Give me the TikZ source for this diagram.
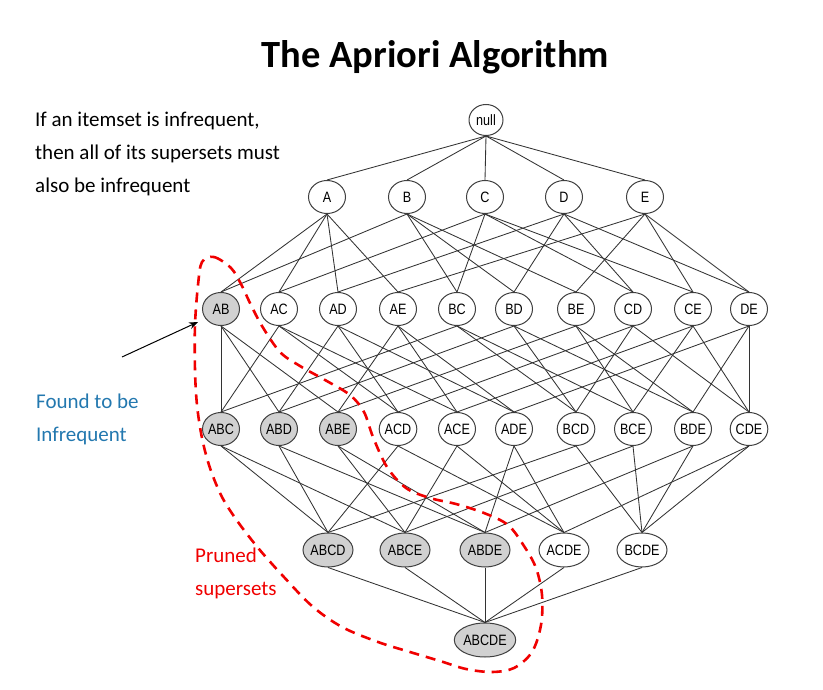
\documentclass[tikz,border=0pt]{standalone}
\usepackage{fontspec}
\setmainfont{Carlito}
\newfontfamily\nodefont[FakeStretch=0.84]{Liberation Sans}
\usetikzlibrary{arrows.meta,shapes.geometric}
\definecolor{infblue}{RGB}{35,120,175}
\definecolor{prunered}{RGB}{240,0,0}
\tikzset{
  setnode/.style={ellipse, draw=black!75, line width=1pt, fill=white, inner sep=0pt,
     minimum width=37pt, minimum height=33pt, font=\nodefont\fontsize{15}{17}\selectfont},
  infnode/.style={setnode, fill=black!18},
  bignode/.style={minimum width=50pt, minimum height=34pt},
  edge/.style={draw=black!80, line width=0.85pt},
  sidetext/.style={anchor=base west, align=left, font=\fontsize{21}{33}\selectfont, inner sep=0pt},
}
\begin{document}
\begin{tikzpicture}[x=1pt, y=-1pt]
\useasboundingbox (0,0) rectangle (823,690);
% title
\node[anchor=base, inner sep=0pt, font=\bfseries\fontsize{38.5}{40}\selectfont] (title) at (435.5,68) {The Apriori Algorithm};
% side texts (anchor = baseline of last line)
\node[sidetext] (rule) at (35,193) {If an itemset is infrequent,\\then all of its supersets must\\also be infrequent};
\node[sidetext, text=infblue] (found) at (36,441) {Found to be\\Infrequent};
\node[sidetext, text=prunered] (pruned) at (195,595) {Pruned\\supersets};
% lattice nodes
\node[setnode, minimum width=34pt, minimum height=31pt] (null) at (486,120) {null};
\foreach \n/\x in {A/327,B/407,C/485,D/564,E/645}
  \node[setnode] (\n) at (\x,197) {\n};
\node[infnode] (AB) at (221,309) {AB};
\foreach \n/\x in {AC/279,AD/338,AE/398,BC/457,BD/514,BE/576,CD/633,CE/693,DE/749}
  \node[setnode] (\n) at (\x,309) {\n};
\foreach \n/\x in {ABC/221,ABD/279,ABE/338}
  \node[infnode] (\n) at (\x,429) {\n};
\foreach \n/\x in {ACD/398,ACE/457,ADE/514,BCD/576,BCE/633,BDE/693,CDE/749}
  \node[setnode] (\n) at (\x,429) {\n};
\foreach \n/\x in {ABCD/328,ABCE/405,ABDE/485}
  \node[infnode, bignode] (\n) at (\x,550) {\n};
\foreach \n/\x in {ACDE/564,BCDE/642}
  \node[setnode, bignode] (\n) at (\x,550) {\n};
\node[infnode, bignode, minimum width=54pt] (ABCDE) at (485,640) {ABCDE};
% edges
\foreach \a/\b in {null/A,null/B,null/C,null/D,null/E,
  A/AB,A/AC,A/AD,A/AE, B/AB,B/BC,B/BD,B/BE, C/AC,C/BC,C/CD,C/CE,
  D/AD,D/BD,D/CD,D/DE, E/AE,E/BE,E/CE,E/DE,
  AB/ABC,AB/ABD,AB/ABE, AC/ABC,AC/ACD,AC/ACE, AD/ABD,AD/ACD,AD/ADE,
  AE/ABE,AE/ACE,AE/ADE, BC/ABC,BC/BCD,BC/BCE, BD/ABD,BD/BCD,BD/BDE,
  BE/ABE,BE/BCE,BE/BDE, CD/ACD,CD/BCD,CD/CDE, CE/ACE,CE/BCE,CE/CDE,
  DE/ADE,DE/BDE,DE/CDE,
  ABC/ABCD,ABC/ABCE, ABD/ABCD,ABD/ABDE, ABE/ABCE,ABE/ABDE,
  ACD/ABCD,ACD/ACDE, ACE/ABCE,ACE/ACDE, ADE/ABDE,ADE/ACDE,
  BCD/ABCD,BCD/BCDE, BCE/ABCE,BCE/BCDE, BDE/ABDE,BDE/BCDE,
  CDE/ACDE,CDE/BCDE,
  ABCD/ABCDE,ABCE/ABCDE,ABDE/ABCDE,ACDE/ABCDE,BCDE/ABCDE}
  \draw[edge] (\a.south) -- (\b.north);
% arrow
\coordinate (arrstart) at (122,357);
\coordinate (arrend) at (198,322);
\draw[line width=1pt, -{Stealth[length=9pt,width=7pt]}] (arrstart) -- (arrend);
% pruned region
\draw[prunered, line width=2.6pt, dash pattern=on 10pt off 7pt]
  plot[smooth cycle, tension=0.55] coordinates {
  (202,262) (214,257) (231,268) (241,284) (250,303) (262,326) (280,352)
  (300,366) (325,380) (350,395) (364,412) (373,437) (387,467) (406,488)
  (430,498) (456,504) (484,513) (508,525) (524,546) (536,568) (542,595)
  (541,625) (532,652) (514,668) (492,672) (466,669) (440,661) (410,652)
  (378,642) (342,627) (312,606) (283,576) (259,549) (238,522) (222,497)
  (210,468) (202,438) (197,405) (195,370) (195,325) (198,285)};
\end{tikzpicture}
\end{document}
